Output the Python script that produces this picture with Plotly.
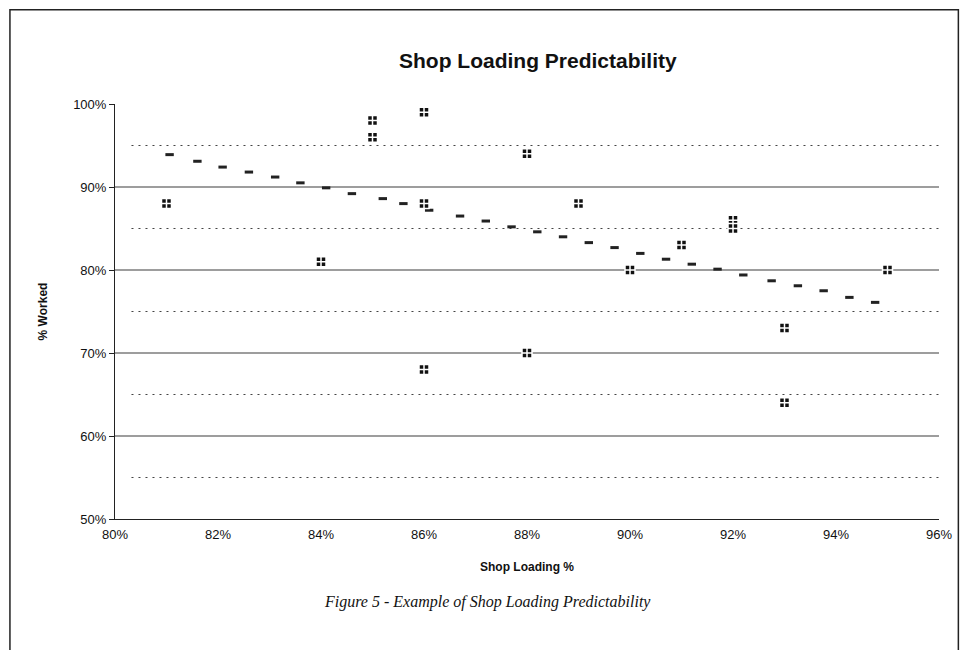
import plotly.graph_objects as go

FONT = 'Liberation Sans, Arial, sans-serif'
SERIF = 'Liberation Serif, Times New Roman, serif'

# observed shop loading vs % worked
loading = [0.81, 0.84, 0.85, 0.85, 0.86, 0.86, 0.86, 0.88, 0.88, 0.89,
           0.90, 0.91, 0.92, 0.92, 0.93, 0.93, 0.95]
worked = [0.88, 0.81, 0.98, 0.96, 0.99, 0.88, 0.68, 0.94, 0.70, 0.88,
          0.80, 0.83, 0.86, 0.85, 0.73, 0.64, 0.80]

# linear trend markers
trend_x = [0.8106, 0.8160, 0.8209, 0.8260, 0.8311, 0.8360, 0.8410, 0.8460,
           0.8520, 0.8560, 0.8610, 0.8670, 0.8720, 0.8770, 0.8820, 0.8870,
           0.8920, 0.8970, 0.9020, 0.9070, 0.9120, 0.9170, 0.9220, 0.9275,
           0.9326, 0.9376, 0.9426, 0.9476]
trend_y = [0.939, 0.931, 0.924, 0.918, 0.912, 0.905, 0.899, 0.892,
           0.886, 0.880, 0.872, 0.865, 0.859, 0.852, 0.846, 0.840,
           0.833, 0.827, 0.820, 0.813, 0.807, 0.801, 0.794, 0.787,
           0.781, 0.775, 0.767, 0.761]

x_ticks = [0.80, 0.82, 0.84, 0.86, 0.88, 0.90, 0.92, 0.94, 0.96]
y_ticks = [0.5, 0.6, 0.7, 0.8, 0.9, 1.0]
major_grid = [0.6, 0.7, 0.8, 0.9]
minor_grid = [0.55, 0.65, 0.75, 0.85, 0.95]

fig = go.Figure()

# gridlines drawn as shapes so no line sits on the 100% edge
for g in major_grid:
    fig.add_shape(type='line', xref='x domain', yref='y', x0=0, x1=1, y0=g, y1=g,
                  line=dict(color='#3c3c3c', width=1.2), layer='below')
for g in minor_grid:
    fig.add_shape(type='line', xref='x domain', yref='y', x0=0.02, x1=1, y0=g, y1=g,
                  line=dict(color='#444444', width=1.2, dash='2px,5px'), layer='below')

fig.add_trace(go.Scatter(
    x=trend_x, y=trend_y, mode='markers',
    marker=dict(symbol='line-ew', size=6, line=dict(color='#222222', width=3)),
    hoverinfo='skip', showlegend=False))

fig.add_trace(go.Scatter(
    x=loading, y=worked, mode='markers',
    marker=dict(symbol='square-cross', size=10, color='#111111',
                line=dict(color='white', width=1.5)),
    showlegend=False))

# outer frame of the scanned figure
fig.add_shape(type='rect', xref='paper', yref='paper', x0=-0.1275, x1=1.0235,
              y0=-0.4, y1=1.227, line=dict(color='#222222', width=1.5))

fig.add_annotation(text='<b>Shop Loading Predictability</b>',
                   xref='paper', yref='paper', x=0.513, y=1.106, yanchor='middle',
                   showarrow=False, font=dict(family=FONT, size=21, color='#111111'))
fig.add_annotation(text='<i>Figure 5 - Example of Shop Loading Predictability</i>',
                   xref='paper', yref='paper', x=0.452, y=-0.2, yanchor='middle',
                   showarrow=False, font=dict(family=SERIF, size=16, color='#111111'))

fig.update_layout(
    width=956, height=642,
    font=dict(family=FONT, color='#111111', size=13),
    plot_bgcolor='white', paper_bgcolor='white',
    margin=dict(l=107, r=21, t=96, b=131),
    xaxis=dict(range=[0.80, 0.96], tickvals=x_ticks, tickformat='.0%',
               showgrid=False, zeroline=False, showline=True, linecolor='#222222',
               ticks='outside', ticklen=3, tickcolor='white', tickfont=dict(size=13),
               title=dict(text='<b>Shop Loading %</b>', font=dict(size=12), standoff=22)),
    yaxis=dict(range=[0.5, 1.0], tickvals=y_ticks, tickformat='.0%',
               showgrid=False, zeroline=False, showline=True, linecolor='#222222',
               ticks='outside', ticklen=5, tickcolor='#222222', tickfont=dict(size=13),
               title=dict(text='<b>% Worked</b>', font=dict(size=12), standoff=22)),
)

fig.write_html('out.html')
